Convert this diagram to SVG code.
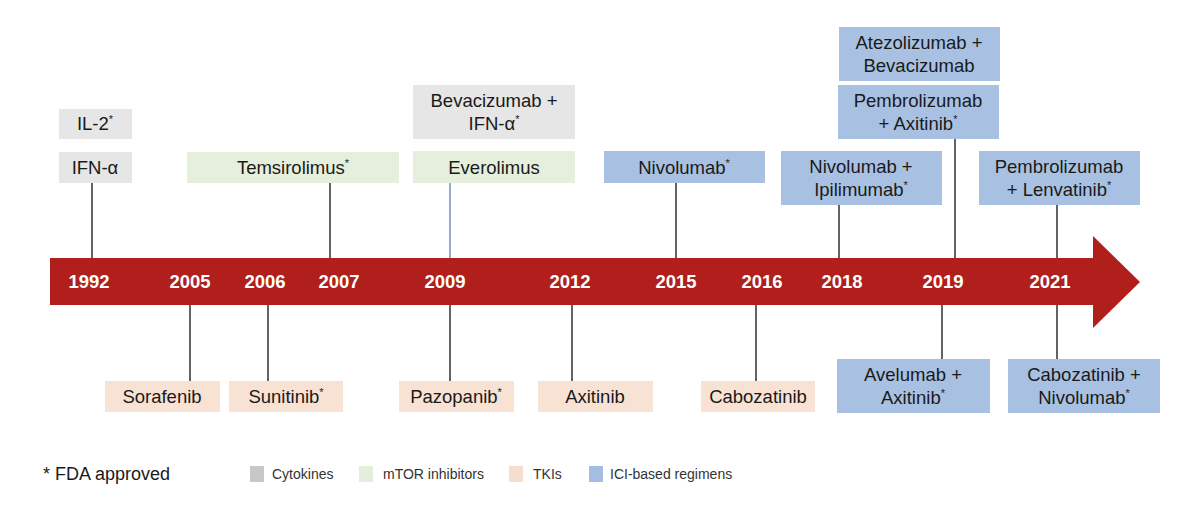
<svg xmlns="http://www.w3.org/2000/svg" width="1200" height="506" viewBox="0 0 1200 506">
<style>
text{font-family:"Liberation Sans",Arial,sans-serif;fill:#1a1a1a;font-size:18.5px;text-anchor:middle}
.yr{fill:#ffffff;font-weight:bold;font-size:18.5px}
.sup{font-size:11px}
.cyt{fill:#e6e6e6}
.mtor{fill:#e5efdc}
.tki{fill:#f8e2d4}
.ici{fill:#a8c1e2}
.ln{stroke:#3c3c3c;stroke-width:1.6;fill:none}
.lg{font-size:14px;text-anchor:start;fill:#333}
</style>
<rect width="1200" height="506" fill="#ffffff"/>
<g id="timeline">
<polygon points="50,258 1093,258 1093,236 1140,282 1093,328 1093,305 50,305" fill="#b01f1b"/>
<text class="yr" x="89" y="288">1992</text>
<text class="yr" x="190" y="288">2005</text>
<text class="yr" x="265" y="288">2006</text>
<text class="yr" x="339" y="288">2007</text>
<text class="yr" x="445" y="288">2009</text>
<text class="yr" x="570" y="288">2012</text>
<text class="yr" x="676" y="288">2015</text>
<text class="yr" x="762" y="288">2016</text>
<text class="yr" x="842" y="288">2018</text>
<text class="yr" x="943" y="288">2019</text>
<text class="yr" x="1050" y="288">2021</text>
</g>
<g id="connectors">
<line class="ln" x1="92" y1="183" x2="92" y2="258"/>
<line class="ln" x1="330" y1="183" x2="330" y2="258"/>
<line x1="450" y1="183" x2="450" y2="258" stroke="#7f96c4" stroke-width="1.6"/>
<line class="ln" x1="676" y1="183" x2="676" y2="258"/>
<line class="ln" x1="839" y1="205" x2="839" y2="258"/>
<line class="ln" x1="955" y1="139" x2="955" y2="258"/>
<line class="ln" x1="1057" y1="205" x2="1057" y2="258"/>
<line class="ln" x1="190" y1="305" x2="190" y2="381"/>
<line class="ln" x1="268" y1="305" x2="268" y2="381"/>
<line class="ln" x1="450" y1="305" x2="450" y2="381"/>
<line class="ln" x1="572" y1="305" x2="572" y2="381"/>
<line class="ln" x1="756" y1="305" x2="756" y2="381"/>
<line class="ln" x1="942" y1="305" x2="942" y2="359"/>
<line class="ln" x1="1057" y1="305" x2="1057" y2="359"/>
</g>
<g id="il2"><rect class="cyt" x="59" y="109" width="73" height="30"/><text x="95" y="130">IL-2<tspan class="sup" dy="-7">*</tspan></text></g>
<g id="ifn"><rect class="cyt" x="59" y="152" width="73" height="31"/><text x="95" y="174">IFN-α</text></g>
<g id="temsirolimus"><rect class="mtor" x="187" y="152" width="212" height="31"/><text x="293" y="174">Temsirolimus<tspan class="sup" dy="-7">*</tspan></text></g>
<g id="bev-ifn"><rect class="cyt" x="413" y="85" width="162" height="54"/><text x="494" y="107">Bevacizumab +</text><text x="494" y="130">IFN-α<tspan class="sup" dy="-7">*</tspan></text></g>
<g id="everolimus"><rect class="mtor" x="413" y="151" width="162" height="32"/><text x="494" y="174">Everolimus</text></g>
<g id="nivolumab"><rect class="ici" x="604" y="151" width="161" height="32"/><text x="684" y="174">Nivolumab<tspan class="sup" dy="-7">*</tspan></text></g>
<g id="atezo-bev"><rect class="ici" x="839" y="27" width="161" height="54"/><text x="919" y="49">Atezolizumab +</text><text x="919" y="72">Bevacizumab</text></g>
<g id="pembro-axi"><rect class="ici" x="838" y="85" width="161" height="54"/><text x="918" y="107">Pembrolizumab</text><text x="918" y="130">+ Axitinib<tspan class="sup" dy="-7">*</tspan></text></g>
<g id="nivo-ipi"><rect class="ici" x="781" y="151" width="161" height="54"/><text x="861" y="173">Nivolumab +</text><text x="861" y="196">Ipilimumab<tspan class="sup" dy="-7">*</tspan></text></g>
<g id="pembro-len"><rect class="ici" x="979" y="151" width="161" height="54"/><text x="1059" y="173">Pembrolizumab</text><text x="1059" y="196">+ Lenvatinib<tspan class="sup" dy="-7">*</tspan></text></g>
<g id="sorafenib"><rect class="tki" x="105" y="381" width="115" height="31"/><text x="162" y="403">Sorafenib</text></g>
<g id="sunitinib"><rect class="tki" x="229" y="381" width="114" height="31"/><text x="286" y="403">Sunitinib<tspan class="sup" dy="-7">*</tspan></text></g>
<g id="pazopanib"><rect class="tki" x="399" y="381" width="115" height="31"/><text x="456" y="403">Pazopanib<tspan class="sup" dy="-7">*</tspan></text></g>
<g id="axitinib"><rect class="tki" x="538" y="381" width="115" height="31"/><text x="595" y="403">Axitinib</text></g>
<g id="cabozatinib"><rect class="tki" x="701" y="381" width="114" height="31"/><text x="758" y="403">Cabozatinib</text></g>
<g id="ave-axi"><rect class="ici" x="837" y="359" width="153" height="54"/><text x="913" y="381">Avelumab +</text><text x="913" y="404">Axitinib<tspan class="sup" dy="-7">*</tspan></text></g>
<g id="cabo-nivo"><rect class="ici" x="1008" y="359" width="152" height="54"/><text x="1084" y="381">Cabozatinib +</text><text x="1084" y="404">Nivolumab<tspan class="sup" dy="-7">*</tspan></text></g>
<g id="legend">
<text x="43" y="480" style="text-anchor:start;font-size:18px">* FDA approved</text>
<rect x="250" y="466" width="14" height="16" fill="#c8c8c8"/><text class="lg" x="272" y="479">Cytokines</text>
<rect x="359" y="466" width="14" height="16" fill="#e2efda"/><text class="lg" x="383" y="479">mTOR inhibitors</text>
<rect x="509" y="466" width="14" height="16" fill="#f6ddcf"/><text class="lg" x="533" y="479">TKIs</text>
<rect x="589" y="466" width="14" height="16" fill="#a4bde0"/><text class="lg" x="610" y="479">ICI-based regimens</text>
</g>
</svg>
